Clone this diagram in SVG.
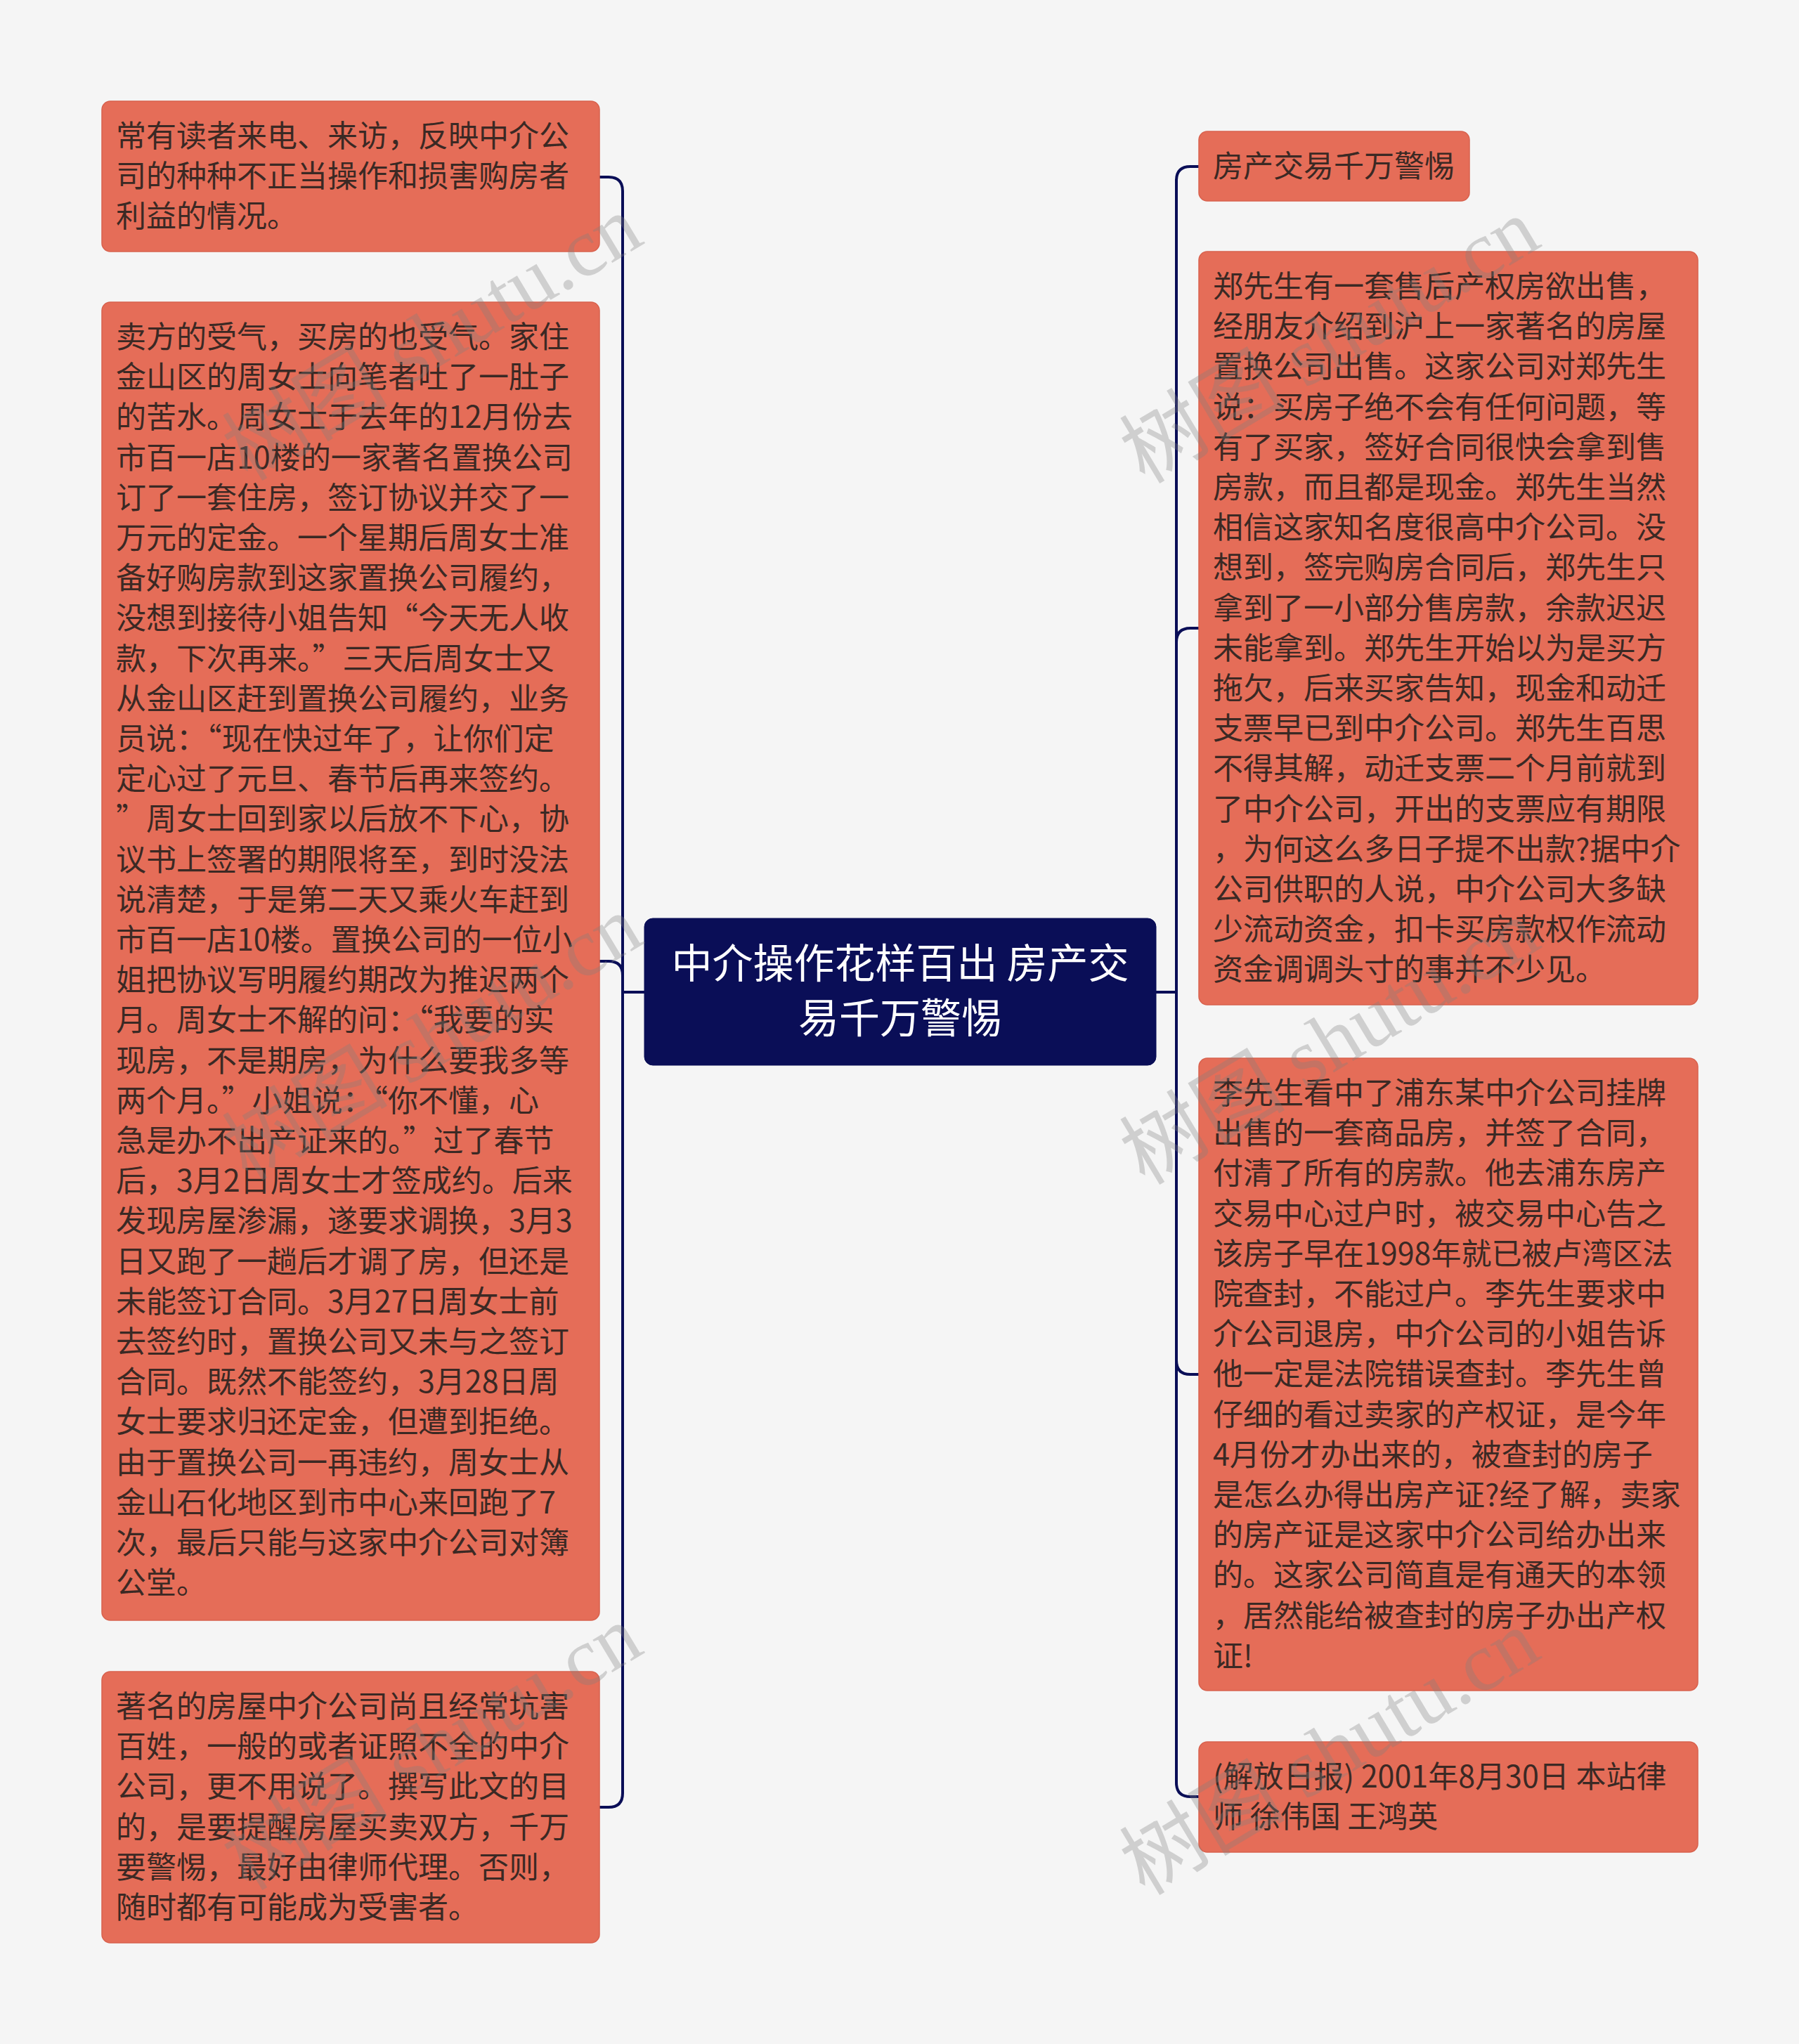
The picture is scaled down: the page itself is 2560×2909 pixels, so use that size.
<svg xmlns="http://www.w3.org/2000/svg" width="2560" height="2909" viewBox="0 0 2560 2909">
<style>
.bg{fill:#f5f5f5}
.node rect{fill:#e56d58;stroke:#d8614d;stroke-width:1.5}
.t{font-family:"Noto Sans CJK SC","Noto Sans",sans-serif;font-size:43px;fill:#3b2924}
.root rect{fill:#0a0e57;stroke:#0a0e57}
.rt{font-family:"Noto Sans CJK SC","Noto Sans",sans-serif;font-size:58px;fill:#ffffff;text-anchor:middle}
.edge{fill:none;stroke:#0a0e57;stroke-width:4}
.wm{font-family:"Liberation Serif","Noto Sans CJK SC",serif;font-size:118px;fill:#808080;fill-opacity:0.32}
</style>
<rect class="bg" x="0" y="0" width="2560" height="2909"/>
<g id="connectors">
<path class="edge" d="M917 1412 H886 V272 Q886 252 866 252 H853"/>
<path class="edge" d="M917 1412 H886 V1388 Q886 1368 866 1368 H853"/>
<path class="edge" d="M917 1412 H886 V2552 Q886 2572 866 2572 H853"/>
<path class="edge" d="M1645 1412 H1674 V257 Q1674 237 1694 237 H1706"/>
<path class="edge" d="M1645 1412 H1674 V914 Q1674 894 1694 894 H1706"/>
<path class="edge" d="M1645 1412 H1674 V1936 Q1674 1956 1694 1956 H1706"/>
<path class="edge" d="M1645 1412 H1674 V2537 Q1674 2557 1694 2557 H1706"/>
</g>
<g id="root" class="root">
<rect x="917" y="1307" width="728" height="209" rx="12"/>
<text class="rt"><tspan x="1281" y="1392">中介操作花样百出 房产交</tspan><tspan x="1281" y="1470">易千万警惕</tspan></text>
</g>
<g id="L1" class="node">
<rect x="145" y="144" width="708" height="214" rx="12"/>
<text class="t"><tspan x="165" y="209">常有读者来电、来访，反映中介公</tspan><tspan x="165" dy="57.2">司的种种不正当操作和损害购房者</tspan><tspan x="165" dy="57.2">利益的情况。</tspan></text>
</g>
<g id="L2" class="node">
<rect x="145" y="430" width="708" height="1876" rx="12"/>
<text class="t"><tspan x="165" y="495">卖方的受气，买房的也受气。家住</tspan><tspan x="165" dy="57.2">金山区的周女士向笔者吐了一肚子</tspan><tspan x="165" dy="57.2">的苦水。周女士于去年的12月份去</tspan><tspan x="165" dy="57.2">市百一店10楼的一家著名置换公司</tspan><tspan x="165" dy="57.2">订了一套住房，签订协议并交了一</tspan><tspan x="165" dy="57.2">万元的定金。一个星期后周女士准</tspan><tspan x="165" dy="57.2">备好购房款到这家置换公司履约，</tspan><tspan x="165" dy="57.2">没想到接待小姐告知“今天无人收</tspan><tspan x="165" dy="57.2">款，下次再来。”三天后周女士又</tspan><tspan x="165" dy="57.2">从金山区赶到置换公司履约，业务</tspan><tspan x="165" dy="57.2">员说：“现在快过年了，让你们定</tspan><tspan x="165" dy="57.2">定心过了元旦、春节后再来签约。</tspan><tspan x="165" dy="57.2">”周女士回到家以后放不下心，协</tspan><tspan x="165" dy="57.2">议书上签署的期限将至，到时没法</tspan><tspan x="165" dy="57.2">说清楚，于是第二天又乘火车赶到</tspan><tspan x="165" dy="57.2">市百一店10楼。置换公司的一位小</tspan><tspan x="165" dy="57.2">姐把协议写明履约期改为推迟两个</tspan><tspan x="165" dy="57.2">月。周女士不解的问：“我要的实</tspan><tspan x="165" dy="57.2">现房，不是期房，为什么要我多等</tspan><tspan x="165" dy="57.2">两个月。”小姐说：“你不懂，心</tspan><tspan x="165" dy="57.2">急是办不出产证来的。”过了春节</tspan><tspan x="165" dy="57.2">后，3月2日周女士才签成约。后来</tspan><tspan x="165" dy="57.2">发现房屋渗漏，遂要求调换，3月3</tspan><tspan x="165" dy="57.2">日又跑了一趟后才调了房，但还是</tspan><tspan x="165" dy="57.2">未能签订合同。3月27日周女士前</tspan><tspan x="165" dy="57.2">去签约时，置换公司又未与之签订</tspan><tspan x="165" dy="57.2">合同。既然不能签约，3月28日周</tspan><tspan x="165" dy="57.2">女士要求归还定金，但遭到拒绝。</tspan><tspan x="165" dy="57.2">由于置换公司一再违约，周女士从</tspan><tspan x="165" dy="57.2">金山石化地区到市中心来回跑了7</tspan><tspan x="165" dy="57.2">次，最后只能与这家中介公司对簿</tspan><tspan x="165" dy="57.2">公堂。</tspan></text>
</g>
<g id="L3" class="node">
<rect x="145" y="2379" width="708" height="386" rx="12"/>
<text class="t"><tspan x="165" y="2444">著名的房屋中介公司尚且经常坑害</tspan><tspan x="165" dy="57.2">百姓，一般的或者证照不全的中介</tspan><tspan x="165" dy="57.2">公司，更不用说了。撰写此文的目</tspan><tspan x="165" dy="57.2">的，是要提醒房屋买卖双方，千万</tspan><tspan x="165" dy="57.2">要警惕，最好由律师代理。否则，</tspan><tspan x="165" dy="57.2">随时都有可能成为受害者。</tspan></text>
</g>
<g id="R1" class="node">
<rect x="1706" y="187" width="385" height="99" rx="12"/>
<text class="t"><tspan x="1726" y="252">房产交易千万警惕</tspan></text>
</g>
<g id="R2" class="node">
<rect x="1706" y="358" width="710" height="1072" rx="12"/>
<text class="t"><tspan x="1726" y="423">郑先生有一套售后产权房欲出售，</tspan><tspan x="1726" dy="57.2">经朋友介绍到沪上一家著名的房屋</tspan><tspan x="1726" dy="57.2">置换公司出售。这家公司对郑先生</tspan><tspan x="1726" dy="57.2">说：买房子绝不会有任何问题，等</tspan><tspan x="1726" dy="57.2">有了买家，签好合同很快会拿到售</tspan><tspan x="1726" dy="57.2">房款，而且都是现金。郑先生当然</tspan><tspan x="1726" dy="57.2">相信这家知名度很高中介公司。没</tspan><tspan x="1726" dy="57.2">想到，签完购房合同后，郑先生只</tspan><tspan x="1726" dy="57.2">拿到了一小部分售房款，余款迟迟</tspan><tspan x="1726" dy="57.2">未能拿到。郑先生开始以为是买方</tspan><tspan x="1726" dy="57.2">拖欠，后来买家告知，现金和动迁</tspan><tspan x="1726" dy="57.2">支票早已到中介公司。郑先生百思</tspan><tspan x="1726" dy="57.2">不得其解，动迁支票二个月前就到</tspan><tspan x="1726" dy="57.2">了中介公司，开出的支票应有期限</tspan><tspan x="1726" dy="57.2">，为何这么多日子提不出款?据中介</tspan><tspan x="1726" dy="57.2">公司供职的人说，中介公司大多缺</tspan><tspan x="1726" dy="57.2">少流动资金，扣卡买房款权作流动</tspan><tspan x="1726" dy="57.2">资金调调头寸的事并不少见。</tspan></text>
</g>
<g id="R3" class="node">
<rect x="1706" y="1506" width="710" height="900" rx="12"/>
<text class="t"><tspan x="1726" y="1571">李先生看中了浦东某中介公司挂牌</tspan><tspan x="1726" dy="57.2">出售的一套商品房，并签了合同，</tspan><tspan x="1726" dy="57.2">付清了所有的房款。他去浦东房产</tspan><tspan x="1726" dy="57.2">交易中心过户时，被交易中心告之</tspan><tspan x="1726" dy="57.2">该房子早在1998年就已被卢湾区法</tspan><tspan x="1726" dy="57.2">院查封，不能过户。李先生要求中</tspan><tspan x="1726" dy="57.2">介公司退房，中介公司的小姐告诉</tspan><tspan x="1726" dy="57.2">他一定是法院错误查封。李先生曾</tspan><tspan x="1726" dy="57.2">仔细的看过卖家的产权证，是今年</tspan><tspan x="1726" dy="57.2">4月份才办出来的，被查封的房子</tspan><tspan x="1726" dy="57.2">是怎么办得出房产证?经了解，卖家</tspan><tspan x="1726" dy="57.2">的房产证是这家中介公司给办出来</tspan><tspan x="1726" dy="57.2">的。这家公司简直是有通天的本领</tspan><tspan x="1726" dy="57.2">，居然能给被查封的房子办出产权</tspan><tspan x="1726" dy="57.2">证!</tspan></text>
</g>
<g id="R4" class="node">
<rect x="1706" y="2479" width="710" height="157" rx="12"/>
<text class="t"><tspan x="1726" y="2544">(解放日报) 2001年8月30日 本站律</tspan><tspan x="1726" dy="57.2">师 徐伟国 王鸿英</tspan></text>
</g>
<g id="watermarks">
<text class="wm" transform="translate(352 686) rotate(-31)">树图 shutu.cn</text>
<text class="wm" transform="translate(352 1682) rotate(-31)">树图 shutu.cn</text>
<text class="wm" transform="translate(352 2692) rotate(-31)">树图 shutu.cn</text>
<text class="wm" transform="translate(1629 690) rotate(-31)">树图 shutu.cn</text>
<text class="wm" transform="translate(1629 1688) rotate(-31)">树图 shutu.cn</text>
<text class="wm" transform="translate(1629 2699) rotate(-31)">树图 shutu.cn</text>
</g>
</svg>
